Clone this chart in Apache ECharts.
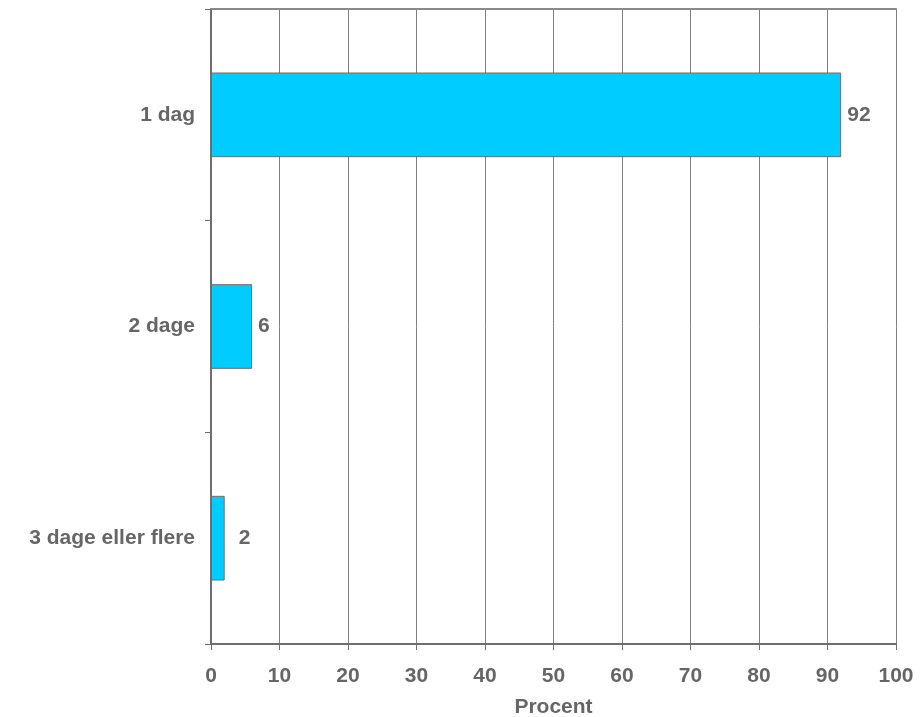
<!DOCTYPE html>
<html>
<head>
<meta charset="utf-8">
<script src="https://cdn.jsdelivr.net/npm/echarts@6/dist/echarts.min.js"></script>
<style>
  html, body { margin: 0; padding: 0; background: #ffffff; }
  #chart { width: 920px; height: 717px; }
</style>
</head>
<body>
<div id="chart"></div>
<script>
// Number of days, share of respondents in percent
const categories = ['1 dag', '2 dage', '3 dage eller flere'];
const values = [92, 6, 2];
const xTicks = [0, 10, 20, 30, 40, 50, 60, 70, 80, 90, 100];

const textColor = '#666666';
const fontFamily = '"Liberation Sans", Arial, sans-serif';
const fontSize = 21;

// very short bars get their value label set a little further out
const barData = values.map(v => (v < 5 ? { value: v, label: { distance: 14 } } : v));

const chart = echarts.init(document.getElementById('chart'));
chart.setOption({
  backgroundColor: '#ffffff',
  animation: false,
  grid: { left: 211, right: 24, top: 9, bottom: 73, containLabel: false, outerBoundsMode: 'none' },
  xAxis: [{
    type: 'value',
    min: xTicks[0],
    max: xTicks[xTicks.length - 1],
    interval: 10,
    position: 'bottom',
    name: 'Procent',
    nameLocation: 'middle',
    nameGap: 53,
    nameTextStyle: { color: textColor, fontFamily, fontWeight: 'bold', fontSize },
    axisLine: { show: true, lineStyle: { color: '#6e6e6e', width: 2 } },
    axisTick: { show: true, length: 6, lineStyle: { color: '#6e6e6e', width: 1 } },
    axisLabel: { color: textColor, fontFamily, fontWeight: 'bold', fontSize, margin: 22 },
    splitLine: { show: true, lineStyle: { color: '#808080', width: 1 } }
  }, {
    type: 'value',
    min: xTicks[0],
    max: xTicks[xTicks.length - 1],
    position: 'top',
    axisLine: { show: true, lineStyle: { color: '#8a8a8a', width: 2 } },
    axisTick: { show: false },
    axisLabel: { show: false },
    splitLine: { show: false }
  }],
  yAxis: {
    type: 'category',
    data: categories,
    inverse: true,
    boundaryGap: true,
    axisLine: { show: true, lineStyle: { color: '#6e6e6e', width: 2 } },
    axisTick: { show: true, length: 6, alignWithLabel: false, lineStyle: { color: '#6e6e6e', width: 1 } },
    axisLabel: { color: textColor, fontFamily, fontWeight: 'bold', fontSize, margin: 16 },
    splitLine: { show: false }
  },
  series: [{
    type: 'bar',
    data: barData,
    barCategoryGap: '60%',
    itemStyle: { color: '#00CCFF', borderColor: '#6e6e6e', borderWidth: 1 },
    label: {
      show: true,
      position: 'right',
      distance: 6,
      color: textColor,
      fontFamily,
      fontWeight: 'bold',
      fontSize
    }
  }]
});
</script>
</body>
</html>
